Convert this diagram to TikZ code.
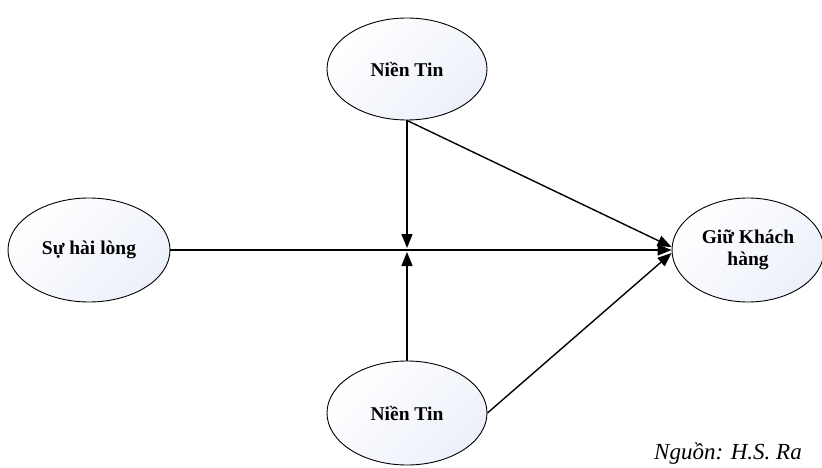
\documentclass[tikz,border=0pt]{standalone}
\usepackage{fontspec}
\setmainfont{Liberation Serif}
\usetikzlibrary{shapes.geometric,arrows.meta,calc}
\definecolor{ellfill}{RGB}{236,240,250}
\tikzset{
  ell/.style={ellipse, draw=black, line width=0.9pt, inner sep=0pt,
    top color=white, bottom color=ellfill, shading angle=45,
    font=\fontsize{19.5}{22}\selectfont\bfseries, align=center},
  conn/.style={line width=1.4pt, -{Triangle[length=14pt,width=11pt]}}
}
\begin{document}
\begin{tikzpicture}[x=1pt,y=-1pt]
\useasboundingbox (0,0) rectangle (822,468);
\node[ell, minimum width=160pt, minimum height=102pt] (top) at (407,69) {Niền Tin};
\node[ell, minimum width=162pt, minimum height=104pt] (left) at (89,250) {Sự hài lòng};
\node[ell, minimum width=152pt, minimum height=104pt] (right) at (748,250) {Giữ Khách\\hàng};
\node[ell, minimum width=160pt, minimum height=104pt] (bot) at (407,413) {Niền Tin};
\coordinate (j1) at (407,248);
\coordinate (j2) at (407,252);
\coordinate (rt) at ($(right.west)+(0,-3)$);
\coordinate (rb) at ($(right.west)+(0,3)$);
\draw[conn] (left.east) -- (right.west);
\draw[conn] (top.south) -- (j1);
\draw[conn] (bot.north) -- (j2);
\draw[conn] (top.south) -- (rt);
\draw[conn] (bot.east) -- (rb);
\node[anchor=base west, inner sep=0pt, font=\fontsize{23}{27}\selectfont\itshape] (src) at (654,459) {Nguồn: H.S. Ra};
\end{tikzpicture}
\end{document}
